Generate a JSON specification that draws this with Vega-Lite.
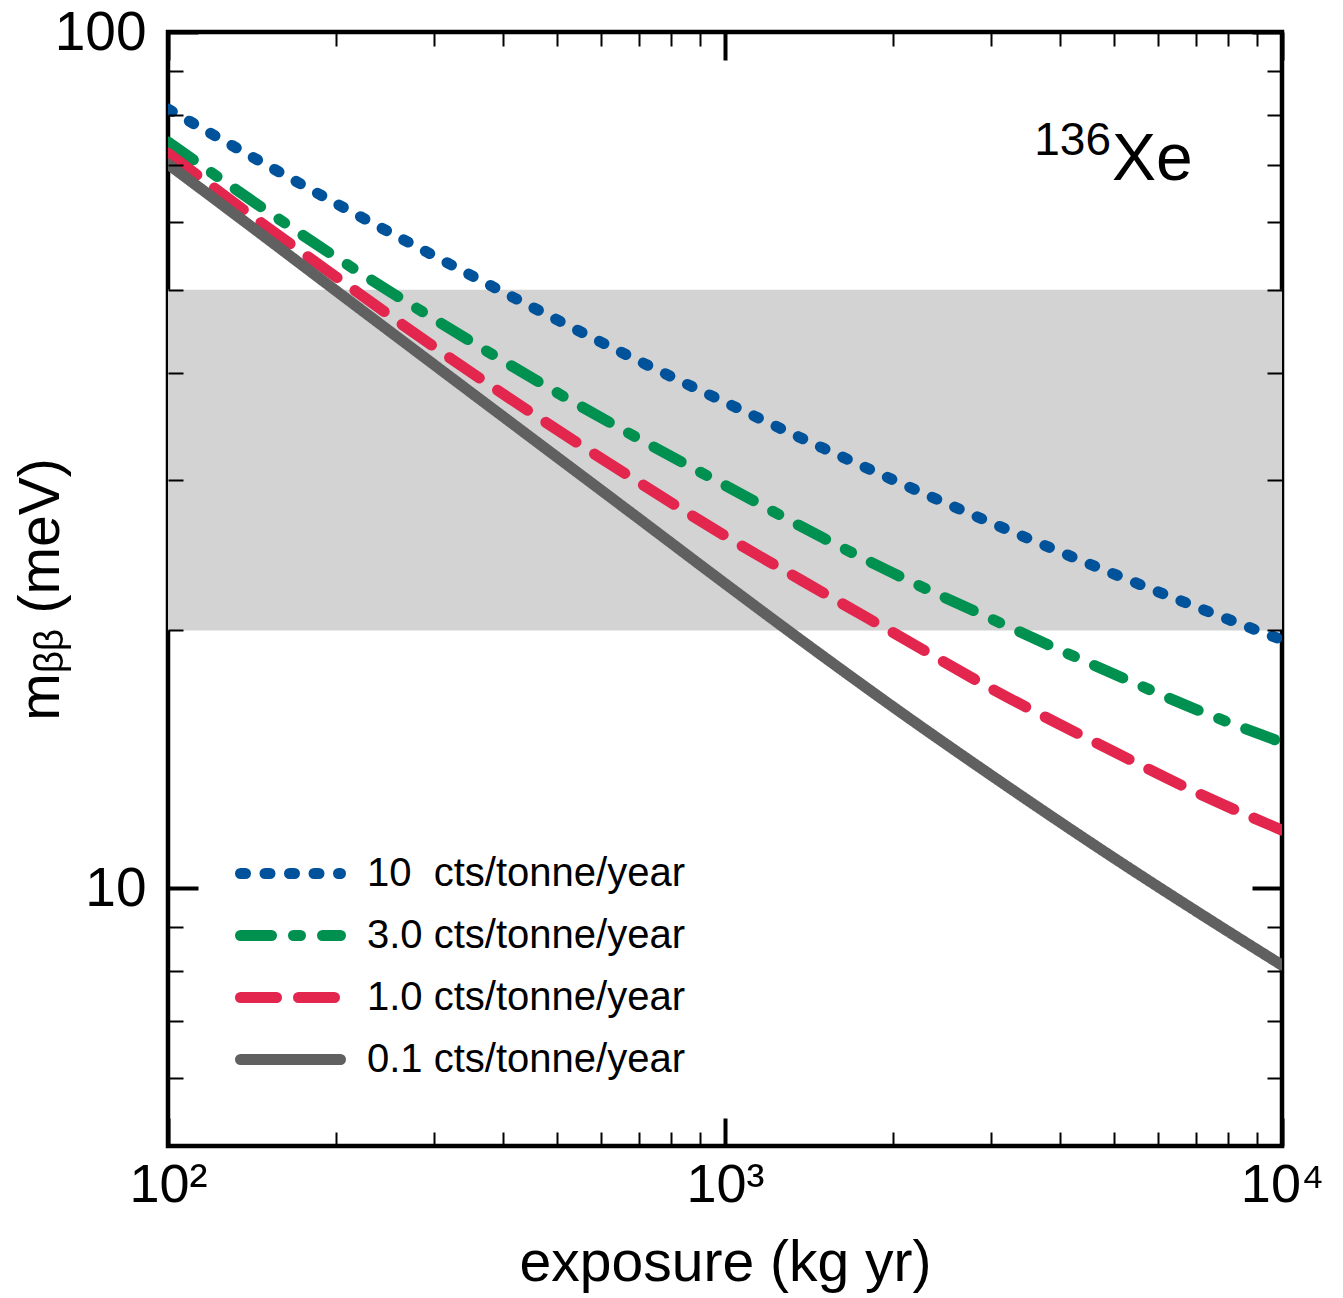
{
  "$schema": "https://vega.github.io/schema/vega-lite/v6.json",
  "width": 1114,
  "height": 1114,
  "autosize": {"type": "none"},
  "padding": {"left": 168, "top": 32, "right": 61, "bottom": 152},
  "background": "white",
  "config": {
    "font": "Liberation Sans",
    "view": {"stroke": "black", "strokeWidth": 4.5},
    "axis": {"labelFont": "Liberation Sans", "titleFont": "Liberation Sans", "labelColor": "black", "titleColor": "black", "grid": false, "domain": false, "titleFontWeight": "normal", "labelOverlap": false, "labelFlush": false}
  },
  "datasets": {
    "curves": [
      {"rate": "10\u2008 cts/tonne/year", "exposure": 100, "mbb": 81.3},
      {"rate": "10\u2008 cts/tonne/year", "exposure": 150, "mbb": 70.0},
      {"rate": "10\u2008 cts/tonne/year", "exposure": 200, "mbb": 63.1},
      {"rate": "10\u2008 cts/tonne/year", "exposure": 300, "mbb": 54.8},
      {"rate": "10\u2008 cts/tonne/year", "exposure": 500, "mbb": 46.1},
      {"rate": "10\u2008 cts/tonne/year", "exposure": 700, "mbb": 41.3},
      {"rate": "10\u2008 cts/tonne/year", "exposure": 1000, "mbb": 36.95},
      {"rate": "10\u2008 cts/tonne/year", "exposure": 1500, "mbb": 32.66},
      {"rate": "10\u2008 cts/tonne/year", "exposure": 2000, "mbb": 30.0},
      {"rate": "10\u2008 cts/tonne/year", "exposure": 3000, "mbb": 26.73},
      {"rate": "10\u2008 cts/tonne/year", "exposure": 5000, "mbb": 23.27},
      {"rate": "10\u2008 cts/tonne/year", "exposure": 7000, "mbb": 21.32},
      {"rate": "10\u2008 cts/tonne/year", "exposure": 10000, "mbb": 19.5},
      {"rate": "3.0 cts/tonne/year", "exposure": 100, "mbb": 74.4},
      {"rate": "3.0 cts/tonne/year", "exposure": 150, "mbb": 61.9},
      {"rate": "3.0 cts/tonne/year", "exposure": 200, "mbb": 54.6},
      {"rate": "3.0 cts/tonne/year", "exposure": 300, "mbb": 46.25},
      {"rate": "3.0 cts/tonne/year", "exposure": 500, "mbb": 37.9},
      {"rate": "3.0 cts/tonne/year", "exposure": 700, "mbb": 33.5},
      {"rate": "3.0 cts/tonne/year", "exposure": 1000, "mbb": 29.55},
      {"rate": "3.0 cts/tonne/year", "exposure": 1500, "mbb": 25.65},
      {"rate": "3.0 cts/tonne/year", "exposure": 2000, "mbb": 23.35},
      {"rate": "3.0 cts/tonne/year", "exposure": 3000, "mbb": 20.65},
      {"rate": "3.0 cts/tonne/year", "exposure": 5000, "mbb": 17.78},
      {"rate": "3.0 cts/tonne/year", "exposure": 7000, "mbb": 16.18},
      {"rate": "3.0 cts/tonne/year", "exposure": 10000, "mbb": 14.8},
      {"rate": "1.0 cts/tonne/year", "exposure": 100, "mbb": 72.2},
      {"rate": "1.0 cts/tonne/year", "exposure": 150, "mbb": 59.3},
      {"rate": "1.0 cts/tonne/year", "exposure": 200, "mbb": 51.8},
      {"rate": "1.0 cts/tonne/year", "exposure": 300, "mbb": 42.9},
      {"rate": "1.0 cts/tonne/year", "exposure": 500, "mbb": 34.3},
      {"rate": "1.0 cts/tonne/year", "exposure": 700, "mbb": 29.8},
      {"rate": "1.0 cts/tonne/year", "exposure": 1000, "mbb": 25.8},
      {"rate": "1.0 cts/tonne/year", "exposure": 1500, "mbb": 22.14},
      {"rate": "1.0 cts/tonne/year", "exposure": 2000, "mbb": 19.9},
      {"rate": "1.0 cts/tonne/year", "exposure": 3000, "mbb": 17.12},
      {"rate": "1.0 cts/tonne/year", "exposure": 5000, "mbb": 14.43},
      {"rate": "1.0 cts/tonne/year", "exposure": 7000, "mbb": 12.95},
      {"rate": "1.0 cts/tonne/year", "exposure": 10000, "mbb": 11.69},
      {"rate": "0.1 cts/tonne/year", "exposure": 100, "mbb": 70.1},
      {"rate": "0.1 cts/tonne/year", "exposure": 150, "mbb": 57.5},
      {"rate": "0.1 cts/tonne/year", "exposure": 200, "mbb": 49.9},
      {"rate": "0.1 cts/tonne/year", "exposure": 300, "mbb": 40.9},
      {"rate": "0.1 cts/tonne/year", "exposure": 500, "mbb": 31.86},
      {"rate": "0.1 cts/tonne/year", "exposure": 700, "mbb": 27.03},
      {"rate": "0.1 cts/tonne/year", "exposure": 1000, "mbb": 22.69},
      {"rate": "0.1 cts/tonne/year", "exposure": 1500, "mbb": 18.66},
      {"rate": "0.1 cts/tonne/year", "exposure": 2000, "mbb": 16.3},
      {"rate": "0.1 cts/tonne/year", "exposure": 3000, "mbb": 13.56},
      {"rate": "0.1 cts/tonne/year", "exposure": 5000, "mbb": 10.84},
      {"rate": "0.1 cts/tonne/year", "exposure": 7000, "mbb": 9.41},
      {"rate": "0.1 cts/tonne/year", "exposure": 10000, "mbb": 8.13}
    ],
    "band": [{"low": 20, "high": 50}],
    "label": [{"exposure": 4953, "mbb": 67.2, "mass": "136", "element": "Xe"}]
  },
  "resolve": {"axis": {"x": "independent", "y": "independent"}},
  "layer": [
    {
      "data": {"name": "band"},
      "mark": {"type": "rect", "color": "#d3d3d3"},
      "encoding": {
        "x": {"datum": 100, "type": "quantitative", "scale": {"type": "log", "domain": [100, 10000], "nice": false},
          "axis": {"orient": "bottom", "values": [100, 1000, 10000], "labelExpr": "datum.value == 100 ? '10²' : datum.value == 1000 ? '10³' : '10⁴'", "ticks": false, "labelFontSize": 54, "labelPadding": 12, "title": "exposure (kg yr)", "titleFontSize": 57, "titlePadding": 23}},
        "x2": {"datum": 10000},
        "y": {"field": "low", "type": "quantitative", "scale": {"type": "log", "domain": [5, 100], "nice": false},
          "axis": {"orient": "left", "values": [10, 100], "format": "d", "ticks": false, "labelFontSize": 55, "labelPadding": 22, "title": "mᵦᵦ (meV)", "titleFontSize": 57, "titlePadding": -16}},
        "y2": {"field": "high"}
      }
    },
    {
      "data": {"name": "curves"},
      "mark": {"type": "line", "strokeWidth": 11, "strokeCap": "round", "clip": true, "interpolate": "monotone"},
      "encoding": {
        "x": {"field": "exposure", "type": "quantitative",
          "axis": {"orient": "bottom", "values": [100, 200, 300, 400, 500, 600, 700, 800, 900, 1000, 2000, 3000, 4000, 5000, 6000, 7000, 8000, 9000, 10000], "labels": false, "title": null, "tickColor": "black", "zindex": 1,
            "tickSize": {"condition": {"test": "datum.value == 100 || datum.value == 1000 || datum.value == 10000", "value": -28}, "value": -14},
            "tickWidth": {"condition": {"test": "datum.value == 100 || datum.value == 1000 || datum.value == 10000", "value": 4}, "value": 2}}},
        "y": {"field": "mbb", "type": "quantitative",
          "axis": {"orient": "left", "values": [6, 7, 8, 9, 10, 20, 30, 40, 50, 60, 70, 80, 90, 100], "labels": false, "title": null, "tickColor": "black", "zindex": 1,
            "tickSize": {"condition": {"test": "datum.value == 10 || datum.value == 100", "value": -30}, "value": -15},
            "tickWidth": {"condition": {"test": "datum.value == 10 || datum.value == 100", "value": 4}, "value": 2}}},
        "color": {"field": "rate", "type": "nominal",
          "scale": {"domain": ["10\u2008 cts/tonne/year", "3.0 cts/tonne/year", "1.0 cts/tonne/year", "0.1 cts/tonne/year"], "range": ["#00539b", "#009150", "#e2264d", "#606060"]},
          "legend": {"title": null, "orient": "none", "legendX": 92, "legendY": 811, "padding": 0, "symbolType": "M-2,0H2", "symbolSize": 2500, "symbolStrokeWidth": 11, "labelFontSize": 40, "labelFont": "Liberation Sans", "labelColor": "black", "labelOffset": 46, "rowPadding": 9, "labelLimit": 600,
            "encode": {"symbols": {"update": {"strokeCap": {"value": "round"}}}}}},
        "strokeDash": {"field": "rate", "type": "nominal",
          "scale": {"domain": ["10\u2008 cts/tonne/year", "3.0 cts/tonne/year", "1.0 cts/tonne/year", "0.1 cts/tonne/year"], "range": [[5, 19.5], [31, 22, 7, 22], [36, 22], [1, 0]]},
          "legend": {"title": null, "orient": "none", "legendX": 92, "legendY": 811, "padding": 0, "symbolType": "M-2,0H2", "symbolSize": 2500, "symbolStrokeWidth": 11, "labelFontSize": 40, "labelFont": "Liberation Sans", "labelColor": "black", "labelOffset": 46, "rowPadding": 9, "labelLimit": 600,
            "encode": {"symbols": {"update": {"strokeCap": {"value": "round"}}}}}}
      }
    },
    {
      "data": {"name": "label"},
      "mark": {"type": "text", "align": "left", "baseline": "alphabetic", "fontSize": 66, "font": "Liberation Sans", "color": "black"},
      "encoding": {
        "x": {"field": "exposure", "type": "quantitative",
          "axis": {"orient": "top", "values": [100, 200, 300, 400, 500, 600, 700, 800, 900, 1000, 2000, 3000, 4000, 5000, 6000, 7000, 8000, 9000, 10000], "labels": false, "title": null, "tickColor": "black", "zindex": 1,
            "tickSize": {"condition": {"test": "datum.value == 100 || datum.value == 1000 || datum.value == 10000", "value": -28}, "value": -14},
            "tickWidth": {"condition": {"test": "datum.value == 100 || datum.value == 1000 || datum.value == 10000", "value": 4}, "value": 2}}},
        "y": {"field": "mbb", "type": "quantitative",
          "axis": {"orient": "right", "values": [6, 7, 8, 9, 10, 20, 30, 40, 50, 60, 70, 80, 90, 100], "labels": false, "title": null, "tickColor": "black", "zindex": 1,
            "tickSize": {"condition": {"test": "datum.value == 10 || datum.value == 100", "value": -30}, "value": -15},
            "tickWidth": {"condition": {"test": "datum.value == 10 || datum.value == 100", "value": 4}, "value": 2}}},
        "text": {"field": "element"}
      }
    },
    {
      "data": {"name": "label"},
      "mark": {"type": "text", "align": "right", "baseline": "alphabetic", "fontSize": 46, "font": "Liberation Sans", "color": "black", "dy": -25, "dx": -1},
      "encoding": {
        "x": {"field": "exposure", "type": "quantitative", "axis": null},
        "y": {"field": "mbb", "type": "quantitative", "axis": null},
        "text": {"field": "mass"}
      }
    }
  ]
}
